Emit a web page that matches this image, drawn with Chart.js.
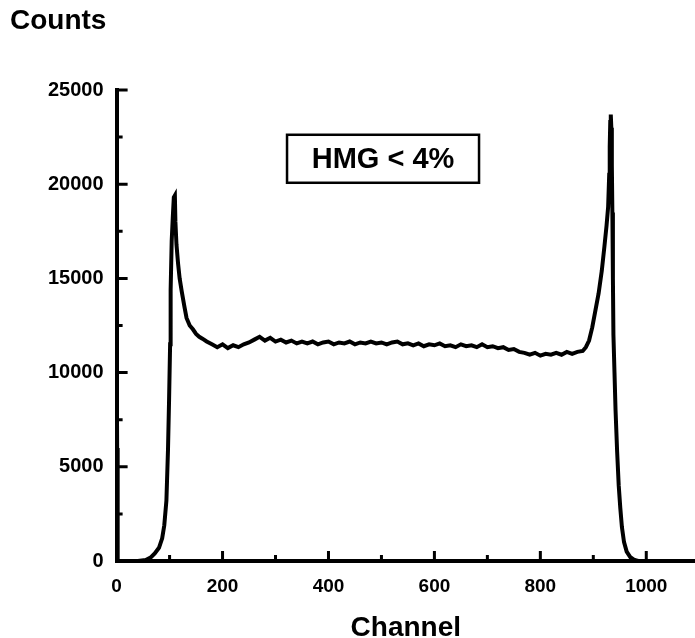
<!DOCTYPE html>
<html>
<head>
<meta charset="utf-8">
<script src="https://cdn.jsdelivr.net/npm/chart.js@4.4.1/dist/chart.umd.min.js"></script>
<style>
  html, body { margin: 0; padding: 0; background: #fff; }
  canvas { display: block; }
</style>
</head>
<body>
<canvas id="chartHist" width="695" height="638"></canvas>
<script>
var fonte = "'Liberation Sans', Arial, Helvetica, sans-serif";

// canais e contagens
var canais = [0, 1, 2, 20, 40, 55, 65, 72, 80, 86, 90, 94, 97, 99, 101, 102, 104, 106, 108, 110,
  111, 113, 116, 119, 123, 128, 132, 138, 144, 150, 156, 162, 170, 180, 190, 200, 210, 220, 230, 240,
  250, 260, 270, 280, 290, 300, 310, 320, 330, 340, 350, 360, 370, 380, 390, 400, 410, 420, 430, 440,
  450, 460, 470, 480, 490, 500, 510, 520, 530, 540, 550, 560, 570, 580, 590, 600, 610, 620, 630, 640,
  650, 660, 670, 680, 690, 700, 710, 720, 730, 740, 750, 760, 770, 780, 790, 800, 810, 820, 830, 840,
  850, 860, 870, 880, 886, 892, 898, 904, 910, 916, 921, 925, 928, 930, 931, 932, 933, 934, 935, 936,
  937, 938, 940, 942, 945, 948, 951, 954, 958, 963, 970, 978, 985];
var contagens = [11800, 6000, 0, 0, 0, 50, 200, 400, 700, 1200, 1900, 3200, 5900, 8500, 11500, 14400, 17000, 18200, 19300, 19400,
  18000, 16800, 15800, 15000, 14300, 13500, 12900, 12500, 12300, 12050, 11900, 11800, 11650, 11500, 11350, 11500, 11300, 11450, 11350, 11500,
  11600, 11750, 11900, 11700, 11850, 11650, 11750, 11600, 11700, 11550, 11650, 11550, 11650, 11500, 11600, 11650, 11500, 11600, 11550, 11650,
  11500, 11600, 11550, 11650, 11550, 11600, 11500, 11600, 11650, 11500, 11550, 11450, 11550, 11400, 11500, 11450, 11550, 11400, 11450, 11350,
  11500, 11400, 11450, 11350, 11500, 11350, 11400, 11300, 11350, 11200, 11250, 11100, 11050, 10950, 11050, 10900, 11000, 10950, 11050, 10950,
  11100, 11000, 11100, 11150, 11350, 11700, 12400, 13300, 14200, 15400, 16700, 17800, 18800, 20500, 22000, 23300, 23700, 23000, 21000, 18500,
  15000, 12000, 10000, 8000, 5800, 4000, 2800, 1800, 1000, 500, 200, 50, 0];

var rotulosX = [0, 200, 400, 600, 800, 1000];
var menoresX = [100, 300, 500, 700, 900];
var rotulosY = [0, 5000, 10000, 15000, 20000, 25000];
var menoresY = [2500, 7500, 12500, 17500, 22500];

var pontos = canais.map(function (c, i) { return { x: c, y: contagens[i] }; });

// marcas de escala para dentro e textos extras
var pluginMarcas = {
  id: 'marcas',
  afterDraw: function (chart) {
    var ctx = chart.ctx;
    var sx = chart.scales.x, sy = chart.scales.y;
    var area = chart.chartArea;
    ctx.save();
    ctx.strokeStyle = '#000';
    ctx.lineWidth = 3;
    ctx.beginPath();
    rotulosX.forEach(function (v) {
      var px = sx.getPixelForValue(v);
      ctx.moveTo(px, area.bottom); ctx.lineTo(px, area.bottom - 10);
    });
    menoresX.forEach(function (v) {
      var px = sx.getPixelForValue(v);
      ctx.moveTo(px, area.bottom); ctx.lineTo(px, area.bottom - 6);
    });
    rotulosY.forEach(function (v) {
      var py = sy.getPixelForValue(v);
      ctx.moveTo(area.left, py); ctx.lineTo(area.left + 11, py);
    });
    menoresY.forEach(function (v) {
      var py = sy.getPixelForValue(v);
      ctx.moveTo(area.left, py); ctx.lineTo(area.left + 6, py);
    });
    ctx.stroke();

    // titulo do eixo y, no canto
    ctx.fillStyle = '#000';
    ctx.font = 'bold 28px ' + fonte;
    ctx.textAlign = 'left';
    ctx.textBaseline = 'middle';
    ctx.fillText('Counts', 10, 21);

    // caixa com o rotulo
    var cx = sx.getPixelForValue(503), cy = sy.getPixelForValue(21350);
    ctx.lineWidth = 2.5;
    ctx.strokeRect(cx - 96, cy - 24, 192, 48);
    ctx.font = 'bold 29px ' + fonte;
    ctx.textAlign = 'center';
    ctx.fillText('HMG < 4%', cx, cy + 1);
    ctx.restore();
  }
};

var ctxHist = document.getElementById('chartHist').getContext('2d');
var configHist = {
  type: 'scatter',
  data: {
    datasets: [{
      data: pontos,
      showLine: true,
      borderColor: '#000',
      borderWidth: 4,
      pointRadius: 0,
      tension: 0
    }]
  },
  options: {
    responsive: false,
    animation: false,
    layout: { padding: { top: 90, left: 35, right: 0, bottom: -4 } },
    plugins: { legend: { display: false }, tooltip: { enabled: false } },
    scales: {
      x: {
        type: 'linear',
        min: 0,
        max: 1092,
        afterBuildTicks: function (s) { s.ticks = rotulosX.map(function (v) { return { value: v }; }); },
        grid: { display: false, drawTicks: false },
        border: { display: true, color: '#000', width: 4 },
        ticks: {
          color: '#000', padding: 16,
          font: { family: fonte, size: 19, weight: 'bold', lineHeight: 1 },
          callback: function (v) { return String(v); }
        },
        title: {
          display: true, text: 'Channel', color: '#000',
          font: { family: fonte, size: 28, weight: 'bold', lineHeight: 1 },
          padding: { top: 2, bottom: 0 }
        }
      },
      y: {
        min: 0,
        max: 25000,
        afterBuildTicks: function (s) { s.ticks = rotulosY.map(function (v) { return { value: v }; }); },
        grid: { display: false, drawTicks: false },
        border: { display: true, color: '#000', width: 4 },
        ticks: {
          color: '#000', padding: 13,
          font: { family: fonte, size: 20, weight: 'bold', lineHeight: 1 },
          callback: function (v) { return String(v); }
        }
      }
    }
  },
  plugins: [pluginMarcas]
};
var graficoHist = new Chart(ctxHist, configHist);
</script>
</body>
</html>
